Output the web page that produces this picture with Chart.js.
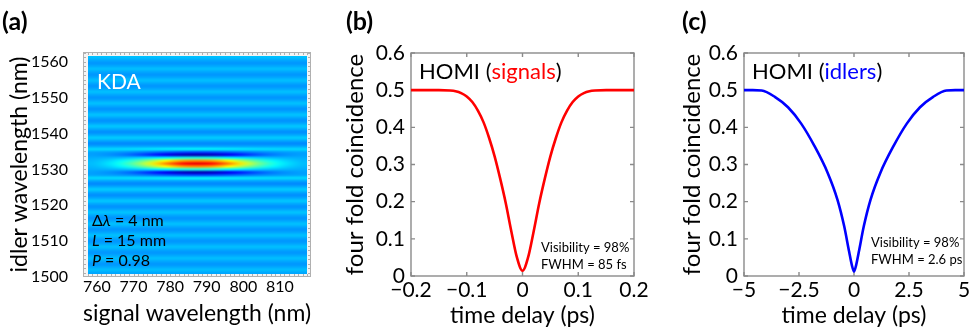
<!DOCTYPE html>
<html><head><meta charset="utf-8">
<script src="https://cdn.jsdelivr.net/npm/chart.js@4.4.0/dist/chart.umd.min.js"></script>
<style>
html,body{margin:0;padding:0;background:#fff;width:971px;height:329px;overflow:hidden;position:relative}
.p{position:absolute;top:0}
</style></head><body>
<div class="p" style="left:0px"><canvas id="ca" width="330" height="329"></canvas></div>
<div class="p" style="left:335px"><canvas id="cb" width="325" height="329"></canvas></div>
<div class="p" style="left:660px"><canvas id="cc" width="330" height="329"></canvas></div>
<script>
// ================= DATA =================
// (a) joint spectral map: cell centres and read intensities (jet colour units 0..1)
const signalNm = [758.75,761.25,763.75,766.25,768.75,771.25,773.75,776.25,778.75,781.25,783.75,786.25,
                  788.75,791.25,793.75,796.25,798.75,801.25,803.75,806.25,808.75,811.25,813.75,816.25];
const lobeEnvelope = [0.035,0.062,0.104,0.165,0.248,0.352,0.474,0.606,0.737,0.855,0.946,0.988,
                      0.988,0.946,0.855,0.737,0.606,0.474,0.352,0.248,0.165,0.104,0.062,0.035];
const idlerNm = [1501.2,1502.0,1502.8,1503.6,1504.4,1505.2,1506.0,1506.8,1507.6,1508.4,
                 1509.2,1510.0,1510.8,1511.6,1512.4,1513.2,1514.0,1514.8,1515.6,1516.4,
                 1517.2,1518.0,1518.8,1519.6,1520.4,1521.2,1522.0,1522.8,1523.6,1524.4,
                 1525.2,1526.0,1526.8,1527.6,1528.4,1529.2,1530.0,1530.8,1531.6,1532.4,
                 1533.2,1534.0,1534.8,1535.6,1536.4,1537.2,1538.0,1538.8,1539.6,1540.4,
                 1541.2,1542.0,1542.8,1543.6,1544.4,1545.2,1546.0,1546.8,1547.6,1548.4,
                 1549.2,1550.0,1550.8,1551.6,1552.4,1553.2,1554.0,1554.8,1555.6,1556.4,
                 1557.2,1558.0,1558.8,1559.6,1560.4,1561.2];
const stripeRow = [0.29,0.312,0.29,0.272,0.29,0.312,0.29,0.272,0.29,0.313,
                   0.29,0.271,0.29,0.314,0.29,0.27,0.29,0.315,0.29,0.269,
                   0.29,0.317,0.29,0.267,0.29,0.32,0.29,0.264,0.29,0.324,
                   0.29,0.258,0.29,0.335,0.29,0.29,0.29,0.29,0.29,0.29,
                   0.29,0.29,0.29,0.335,0.29,0.258,0.29,0.324,0.29,0.264,
                   0.29,0.32,0.29,0.267,0.29,0.317,0.29,0.269,0.29,0.315,
                   0.29,0.27,0.29,0.314,0.29,0.271,0.29,0.313,0.29,0.272,
                   0.29,0.312,0.29,0.272,0.29,0.312];
const lobeRow = [0,0,0,0,0,0,0,0,0,0, 0,0,0,0,0,0,0,0,0,0, 0,0,0,0,0,0,0,0,0,0,
                 0,0,0,0.03,-0.1,-0.24,0.12,0.45,0.61,0.45,
                 0.12,-0.24,-0.1,0.03,0,0,0,0,0,0,
                 0,0,0,0,0,0,0,0,0,0, 0,0,0,0,0,0,0,0,0,0, 0,0,0,0,0,0];
const aTicksX = [760,770,780,790,800,810];
const aTicksY = [1500,1510,1520,1530,1540,1550,1560];

// (b) HOMI signals
const signalDelayPs = [-0.2,-0.15,-0.13,-0.12,-0.11,-0.1,-0.09,-0.08,-0.07,-0.06,-0.05,-0.04,-0.03,-0.02,-0.01,0,
                       0.01,0.02,0.03,0.04,0.05,0.06,0.07,0.08,0.09,0.1,0.11,0.12,0.13,0.15,0.2];
const signalCoinc = [0.5,0.5,0.499,0.497,0.492,0.483,0.468,0.445,0.414,0.372,0.322,0.262,0.196,0.12,0.05,0.014,
                     0.05,0.12,0.196,0.262,0.322,0.372,0.414,0.445,0.468,0.483,0.492,0.497,0.499,0.5,0.5];
const bTicksX = [-0.2,-0.1,0,0.1,0.2];
const bTickLabelsX = ['\u22120.2','\u22120.1','0','0.1','0.2'];

// (c) HOMI idlers
const idlerDelayPs = [-5,-4.6,-4.2,-3.6,-3.0,-2.4,-1.8,-1.2,-0.75,-0.45,-0.22,-0.1,0,
                      0.1,0.22,0.45,0.75,1.2,1.8,2.4,3.0,3.6,4.2,4.6,5];
const idlerCoinc = [0.5,0.5,0.499,0.482,0.454,0.41,0.35,0.278,0.205,0.135,0.065,0.03,0.012,
                    0.03,0.065,0.135,0.205,0.278,0.35,0.41,0.454,0.482,0.499,0.5,0.5];
const cTicksX = [-5,-2.5,0,2.5,5];
const cTickLabelsX = ['\u22125','\u22122.5','0','2.5','5'];

const coincTicks = [0,0.1,0.2,0.3,0.4,0.5,0.6];
const coincTickLabels = ['0','0.1','0.2','0.3','0.4','0.5','0.6'];

// ================= STYLE / HELPERS =================
const FONT = "Lato, 'Open Sans', sans-serif";
Chart.defaults.font.family = FONT;
Chart.defaults.color = '#000';

function jet(v){
  const c = t => Math.max(0, Math.min(1, t));
  return [c(1.5-Math.abs(4*v-3)), c(1.5-Math.abs(4*v-2)), c(1.5-Math.abs(4*v-1))].map(t=>Math.round(t*255));
}
function drawRuns(ctx, x, y, runs){
  let cx = x;
  runs.forEach(r => { ctx.font = r.font; ctx.fillStyle = r.color || '#000'; ctx.fillText(r.t, cx, y); cx += ctx.measureText(r.t).width; });
}
function fixTicks(arr){ return s => { s.ticks = arr.map(v => ({value: v})); }; }

const textPlugin = {
  id: 'texts',
  afterDraw(chart, args, opts){
    const ctx = chart.ctx, a = chart.chartArea;
    ctx.save(); ctx.textBaseline = 'middle'; ctx.textAlign = 'left';
    (opts.items || []).forEach(it => drawRuns(ctx, a.left + it.dx, a.top + it.dy, it.runs));
    ctx.restore();
  }
};

const boxPlugin = {
  id: 'box',
  beforeDatasetsDraw(chart, args, opts){
    if (!opts.on) return;
    const {ctx, chartArea: a, scales: {x, y}} = chart;
    const L = 4;
    ctx.save();
    ctx.strokeStyle = '#8a8a8a'; ctx.lineWidth = 1.4;
    ctx.beginPath();
    x.ticks.forEach(t => { const p = x.getPixelForValue(t.value);
      ctx.moveTo(p, a.bottom); ctx.lineTo(p, a.bottom - L); ctx.moveTo(p, a.top); ctx.lineTo(p, a.top + L); });
    y.ticks.forEach(t => { const p = y.getPixelForValue(t.value);
      ctx.moveTo(a.left, p); ctx.lineTo(a.left + L, p); ctx.moveTo(a.right, p); ctx.lineTo(a.right - L, p); });
    ctx.stroke();
    ctx.strokeRect(a.left, a.top, a.right - a.left, a.bottom - a.top);
    ctx.restore();
  }
};

const heatPlugin = {
  id: 'heat',
  beforeDatasetsDraw(chart, args, opts){
    if (!opts.on) return;
    const {ctx, chartArea: a, scales: {x, y}} = chart;
    ctx.save();
    ctx.fillStyle = '#f4f4f4';
    ctx.fillRect(a.left, a.top, a.right - a.left, a.bottom - a.top);
    const nC = signalNm.length, nR = idlerNm.length;
    const off = document.createElement('canvas'); off.width = nC; off.height = nR;
    const octx = off.getContext('2d'); const img = octx.createImageData(nC, nR);
    for (let r = 0; r < nR; r++) for (let c = 0; c < nC; c++){
      const v = stripeRow[r] + lobeRow[r] * lobeEnvelope[c];
      const col = jet(v); const i = ((nR - 1 - r) * nC + c) * 4;
      img.data[i] = col[0]; img.data[i+1] = col[1]; img.data[i+2] = col[2]; img.data[i+3] = 255;
    }
    octx.putImageData(img, 0, 0);
    const hx = (signalNm[1] - signalNm[0]) / 2, hy = (idlerNm[1] - idlerNm[0]) / 2;
    const x0 = x.getPixelForValue(signalNm[0] - hx), x1 = x.getPixelForValue(signalNm[nC-1] + hx);
    const y0 = y.getPixelForValue(idlerNm[nR-1] + hy), y1 = y.getPixelForValue(idlerNm[0] - hy);
    ctx.imageSmoothingEnabled = true; ctx.imageSmoothingQuality = 'high';
    ctx.drawImage(off, x0, y0, x1 - x0, y1 - y0);
    ctx.strokeStyle = '#b0b0b0'; ctx.lineWidth = 1;
    ctx.strokeRect(Math.round(a.left) + 0.5, Math.round(a.top) + 0.5, Math.round(a.right - a.left) - 1, Math.round(a.bottom - a.top) - 1);
    ctx.beginPath();
    for (let v = 757.5; v < x.max; v += 1.25){ const p = Math.round(x.getPixelForValue(v)) + 0.5;
      ctx.moveTo(p, a.top); ctx.lineTo(p, a.top + 3); ctx.moveTo(p, a.bottom); ctx.lineTo(p, a.bottom - 3); }
    for (let v = 1501.25; v < y.max; v += 1.25){ const p = Math.round(y.getPixelForValue(v)) + 0.5;
      ctx.moveTo(a.left, p); ctx.lineTo(a.left + 3, p); ctx.moveTo(a.right, p); ctx.lineTo(a.right - 3, p); }
    ctx.stroke();
    ctx.restore();
  }
};
Chart.register(textPlugin, boxPlugin, heatPlugin);

function baseOpts(){
  return { responsive: false, animation: false, devicePixelRatio: 1,
    plugins: { legend: {display: false}, tooltip: {enabled: false} } };
}

// ================= (a) =================
(function(){
  const o = baseOpts();
  o.layout = {padding: {left: 0, top: 52, right: 19, bottom: 0}};
  o.scales = {
    x: { type: 'linear', min: 756.2, max: 818.5, afterBuildTicks: fixTicks(aTicksX),
         afterFit: s => { s.height = 52; },
         grid: {display: false, drawTicks: false}, border: {display: false},
         ticks: {font: {size: 16, lineHeight: 1}, padding: 2, maxRotation: 0, callback: v => String(v)},
         title: {display: true, text: 'signal wavelength (nm)', font: {size: 24, lineHeight: 1}, padding: {top: 0, bottom: 4}} },
    y: { type: 'linear', min: 1500, max: 1562.7, afterBuildTicks: fixTicks(aTicksY),
         afterFit: s => { s.width = 83; },
         grid: {display: false, drawTicks: false}, border: {display: false},
         ticks: {font: {size: 16, lineHeight: 1}, padding: 15, callback: v => String(v)},
         title: {display: true, text: 'idler wavelength (nm)', font: {size: 23, lineHeight: 1}, padding: {top: 8, bottom: 0}} }
  };
  o.plugins.heat = {on: true};
  o.plugins.texts = {items: [
    {dx: -81, dy: -30, runs: [{t: '(a)', font: 'bold 25px ' + FONT}]},
    {dx: 14, dy: 30, runs: [{t: 'KDA', font: '21px ' + FONT, color: '#fff'}]},
    {dx: 9, dy: 169, runs: [{t: '\u0394', font: '16px ' + FONT}, {t: '\u03bb', font: 'italic 16px ' + FONT}, {t: ' = 4 nm', font: '16px ' + FONT}]},
    {dx: 9, dy: 189, runs: [{t: 'L', font: 'italic 16px ' + FONT}, {t: ' = 15 mm', font: '16px ' + FONT}]},
    {dx: 9, dy: 209, runs: [{t: 'P', font: 'italic 16px ' + FONT}, {t: ' = 0.98', font: '16px ' + FONT}]}
  ]};
  new Chart(document.getElementById('ca'), {type: 'scatter', data: {datasets: [{data: [], pointRadius: 0}]}, options: o});
})();

// ================= (b) and (c) =================
function homi(id, xs, ys, color, xmin, xmax, ticksX, labelsX, yW, titlePad, word, label, vis){
  const o = baseOpts();
  o.layout = {padding: {left: 0, top: 53, right: 26, bottom: 0}};
  o.scales = {
    x: { type: 'linear', min: xmin, max: xmax, afterBuildTicks: fixTicks(ticksX),
         afterFit: s => { s.height = 53; },
         grid: {display: false, drawTicks: false}, border: {display: false},
         ticks: {font: {size: 21, lineHeight: 1}, padding: 4, maxRotation: 0, callback: (v, i) => labelsX[i]},
         title: {display: true, text: 'time delay (ps)', font: {size: 23, lineHeight: 1}, padding: {top: 0, bottom: 2}} },
    y: { type: 'linear', min: 0, max: 0.6, afterBuildTicks: fixTicks(coincTicks),
         afterFit: s => { s.width = yW; },
         grid: {display: false, drawTicks: false}, border: {display: false},
         ticks: {font: {size: 21, lineHeight: 1}, padding: 6, callback: (v, i) => coincTickLabels[i]},
         title: {display: true, text: 'four fold coincidence', font: {size: 24, lineHeight: 1}, padding: {top: titlePad, bottom: 0}} }
  };
  o.plugins.box = {on: true};
  o.plugins.texts = {items: [
    label,
    {dx: 8, dy: 19, runs: [{t: 'HOMI (', font: '22px ' + FONT}, {t: word, font: '22px ' + FONT, color: color}, {t: ')', font: '22px ' + FONT}]},
    {dx: vis[3], dy: vis[0], runs: [{t: 'Visibility = 98%', font: '13px ' + FONT}]},
    {dx: vis[3], dy: vis[1], runs: [{t: vis[2], font: '13px ' + FONT}]}
  ]};
  new Chart(document.getElementById(id), {
    type: 'line',
    data: {datasets: [{data: xs.map((x, i) => ({x: x, y: ys[i]})), borderColor: color, borderWidth: 2.6,
                       pointRadius: 0, cubicInterpolationMode: 'monotone', fill: false}]},
    options: o
  });
}
homi('cb', signalDelayPs, signalCoinc, '#ff0000', -0.2, 0.2, bTicksX, bTickLabelsX, 76, 8, 'signals',
     {dx: -65, dy: -31, runs: [{t: '(b)', font: 'bold 25px ' + FONT}]}, [195, 212, 'FWHM = 85 fs', 130]);
homi('cc', idlerDelayPs, idlerCoinc, '#0000ff', -5, 5, cTicksX, cTickLabelsX, 84, 20, 'idlers',
     {dx: -62, dy: -31, runs: [{t: '(c)', font: 'bold 25px ' + FONT}]}, [190, 207, 'FWHM = 2.6 ps', 127]);
</script>
</body></html>
